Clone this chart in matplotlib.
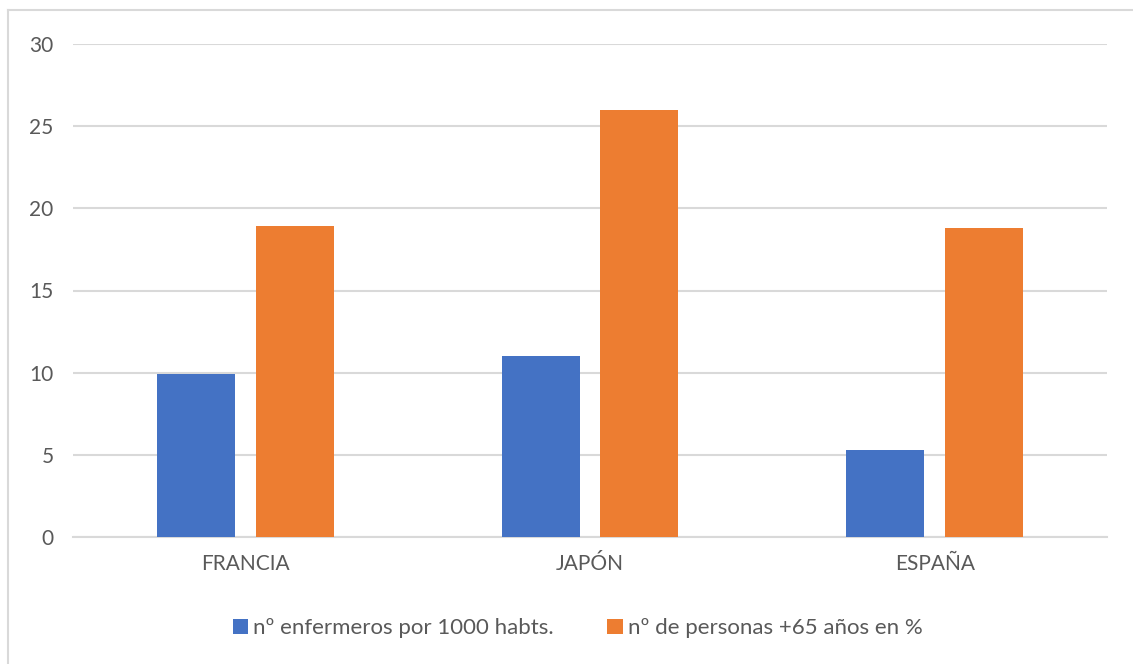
import matplotlib
matplotlib.use("Agg")
import matplotlib.pyplot as plt
import numpy as np
from matplotlib.lines import Line2D

categories = ["FRANCIA", "JAPÓN", "ESPAÑA"]
series_names = ["nº enfermeros por 1000 habts.", "nº de personas +65 años en %"]
enfermeros = [9.9, 11.0, 5.3]
mayores65 = [18.9, 26.0, 18.8]
yticks = [0, 5, 10, 15, 20, 25, 30]

plt.rcParams['font.family'] = ['Lato', 'DejaVu Sans']
txt = '#595959'
grid = '#D9D9D9'
blue = '#4472C4'
orange = '#ED7D31'

W, H = 1133, 664
fig = plt.figure(figsize=(W/100, H/100), dpi=100)
ax = fig.add_axes([73/W, 1-537/H, (1107-73)/W, (537-44)/H])

x = np.arange(len(categories))
bw = 0.226
off = 0.143
ax.bar(x - off, enfermeros, bw, color=blue, label=series_names[0], zorder=3)
ax.bar(x + off, mayores65, bw, color=orange, label=series_names[1], zorder=3)

ax.set_xlim(-0.5, 2.5)
ax.set_ylim(0, 30)
ax.set_yticks(yticks)
ax.set_yticklabels([str(v) for v in yticks])
ax.set_xticks(x)
ax.set_xticklabels(categories)
ax.yaxis.grid(True, color=grid, linewidth=1.5, zorder=0)
ax.set_axisbelow(True)
for s in ['top', 'right', 'left']:
    ax.spines[s].set_visible(False)
ax.spines['bottom'].set_color(grid)
ax.spines['bottom'].set_linewidth(1.5)
ax.tick_params(axis='both', length=0, labelsize=15, colors=txt)
ax.tick_params(axis='y', pad=14)
ax.tick_params(axis='x', pad=12)

leg = fig.legend(loc='center', bbox_to_anchor=(0.510, 1-628/H), ncol=2,
                 frameon=False, fontsize=16, handlelength=0.68, handleheight=0.68,
                 handletextpad=0.25, columnspacing=2.4)
for t in leg.get_texts():
    t.set_color(txt)

# chart border (only top and left visible)
fig.add_artist(Line2D([7.5/W, 1.0], [1-9.5/H, 1-9.5/H], transform=fig.transFigure, color='#D9D9D9', linewidth=1.5))
fig.add_artist(Line2D([7.5/W, 7.5/W], [0, 1-9.5/H], transform=fig.transFigure, color='#D9D9D9', linewidth=1.5))

fig.savefig('out.png', dpi=100)
